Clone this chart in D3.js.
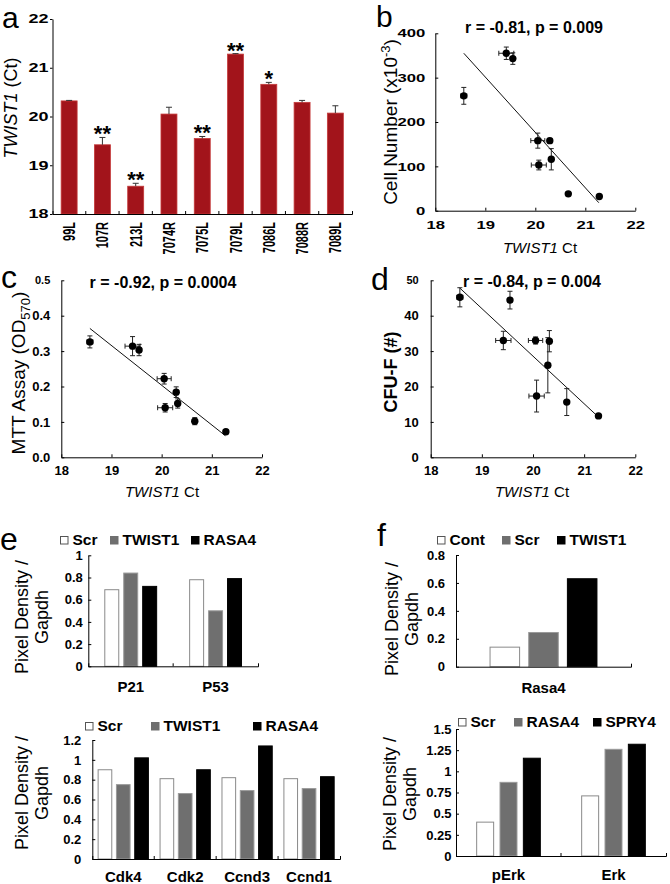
<!DOCTYPE html>
<html><head><meta charset="utf-8">
<script src="https://cdn.jsdelivr.net/npm/d3@7"></script>
<style>body{margin:0;background:#fff}svg{display:block}</style>
</head><body><svg id="c" width="670" height="884"></svg>
<script>
// ---------- DATA ----------
const samples   = ["99L","107R","213L","7074R","7075L","7079L","7086L","7088R","7089L"];
const ctMean    = [20.32,19.42,18.57,20.05,19.55,21.28,20.66,20.29,20.07];
const ctErr     = [0.01,0.15,0.06,0.14,0.04,0.01,0.04,0.04,0.15];
const ctStars   = ["","**","**","","**","**","*","",""];
const ctTicks   = [18,19,20,21,22];

const cellNumber    = [116,355,259,158,343,32,38,158,103];
const cellNumberErr = [24,14,19,17,13,3,3,5,11];
const mttOD         = [0.152,0.314,0.326,0.222,0.303,0.072,0.102,0.184,0.140];
const mttErr        = [0.013,0.027,0.017,0.015,0.016,0.006,0.010,0.015,0.012];
const cfuF          = [32.8,33.0,45.2,33.0,44.4,11.7,15.6,26.0,17.3];
const cfuErr        = [3.0,2.6,2.7,1.0,2.5,0.5,3.8,7.8,4.5];
const fitCell = [[18.57,355],[21.27,18]];
const fitMTT  = [[18.57,0.364],[21.27,0.061]];
const fitCFU  = [[18.57,47.8],[21.27,11.5]];
const statCell = "r = -0.81, p = 0.009";
const statMTT  = "r = -0.92, p = 0.0004";
const statCFU  = "r = -0.84, p = 0.004";
const scatterXTicks = [18,19,20,21,22];
const cellTicks = [0,100,200,300,400];
const mttTicks  = [0,0.1,0.2,0.3,0.4,0.5];
const cfuTicks  = [0,10,20,30,40,50];

const eTopGenes  = ["P21","P53"];
const eTopSeries = ["Scr","TWIST1","RASA4"];
const eTopScr    = [0.69,0.78];
const eTopTwist  = [0.84,0.50];
const eTopRasa   = [0.72,0.79];
const eTopTicks  = [0,0.2,0.4,0.6,0.8,1];

const eBotGenes  = ["Cdk4","Cdk2","Ccnd3","Ccnd1"];
const eBotSeries = ["Scr","TWIST1","RASA4"];
const eBotScr    = [0.90,0.81,0.82,0.81];
const eBotTwist  = [0.75,0.66,0.69,0.71];
const eBotRasa   = [1.02,0.90,1.14,0.83];
const eBotTicks  = [0,0.2,0.4,0.6,0.8,1,1.2];

const fTopGenes  = ["Rasa4"];
const fTopSeries = ["Cont","Scr","TWIST1"];
const fTopCont   = [0.14];
const fTopScr    = [0.245];
const fTopTwist  = [0.63];
const fTopTicks  = [0,0.2,0.4,0.6,0.8];

const fBotGenes  = ["pErk","Erk"];
const fBotSeries = ["Scr","RASA4","SPRY4"];
const fBotScr    = [0.40,0.71];
const fBotRasa   = [0.87,1.26];
const fBotSpry   = [1.155,1.32];
const fBotTicks  = [0,0.25,0.5,0.75,1,1.25,1.5];

// ---------- DRAW ----------
const FONT = "Arial, 'Liberation Sans', sans-serif";
const svg = d3.select("#c").attr("font-family", FONT);
svg.append("rect").attr("width",670).attr("height",884).attr("fill","#fff");

function txt(g, x, y, s, o = {}) {
  const t = g.append("text").attr("x", x).attr("y", y).text(s)
    .attr("font-size", o.size || 13).attr("font-weight", o.weight || "normal")
    .attr("text-anchor", o.anchor || "start").attr("fill", "#000");
  if (o.dy) t.attr("dy", o.dy);
  if (o.transform) t.attr("transform", o.transform);
  if (o.italic) t.attr("font-style", "italic");
  return t;
}
function styleAxis(a, size) {
  a.attr("font-family", FONT).attr("font-size", size).attr("font-weight", "bold");
  a.select(".domain").attr("stroke", "#000").attr("stroke-width", 1);
  a.selectAll(".tick line").attr("stroke", "#000");
  a.selectAll(".tick text").attr("fill", "#000");
}
function letter(x, y, s, size) { if (s) txt(svg, x, y, s, {size: size || 32}); }

// ----- Panel a -----
(function () {
  const g = svg.append("g");
  const x = d3.scaleBand().domain(samples).range([52.5, 352]);
  const y = d3.scaleLinear().domain([18, 22]).range([214, 19]);
  const bw = x.bandwidth() * 0.48;
  g.selectAll("rect.bar").data(samples).join("rect")
    .attr("x", d => x(d) + x.bandwidth() / 2 - bw / 2).attr("width", bw)
    .attr("y", (d, i) => y(ctMean[i])).attr("height", (d, i) => y(18) - y(ctMean[i]))
    .attr("fill", "#A2141B").attr("stroke", "#C53A3A").attr("stroke-width", 0.8);
  samples.forEach((d, i) => {
    const cx = x(d) + x.bandwidth() / 2;
    const yt = y(ctMean[i] + ctErr[i]);
    g.append("line").attr("x1", cx).attr("x2", cx).attr("y1", y(ctMean[i])).attr("y2", yt).attr("stroke", "#333");
    g.append("line").attr("x1", cx - 3).attr("x2", cx + 3).attr("y1", yt).attr("y2", yt).attr("stroke", "#333");
    if (ctStars[i]) txt(g, cx, yt + 4, ctStars[i], {size: 22, weight: "bold", anchor: "middle"});
  });
  const ay = g.append("g").attr("transform", "translate(52.5,0)")
    .call(d3.axisLeft(y).tickValues(ctTicks).tickSizeInner(2.5).tickSizeOuter(0).tickPadding(1.5).tickFormat(d3.format("d")));
  styleAxis(ay, 12);
  ay.selectAll(".tick text").attr("x", -4 / 1.5).attr("transform", "scale(1.5,1)");
  const ax = g.append("g").attr("transform", "translate(0,214)")
    .call(d3.axisBottom(x).tickSize(0).tickSizeOuter(-3).tickFormat(""));
  styleAxis(ax, 11);
  samples.slice(1).forEach(d => {
    g.append("line").attr("x1", x(d)).attr("x2", x(d)).attr("y1", 214).attr("y2", 211).attr("stroke", "#000");
  });
  samples.forEach(d => {
    const cx = x(d) + x.bandwidth() / 2;
    txt(g, 0, 0, d, {size: 11, weight: "bold", anchor: "end", dy: "0.35em",
      transform: `translate(${cx},222) scale(1.55,1) rotate(-90)`});
  });
  const yl = g.append("text").attr("transform", "translate(17,108) rotate(-90)")
    .attr("text-anchor", "middle").attr("font-size", 18).attr("fill", "#000");
  yl.append("tspan").attr("font-style", "italic").text("TWIST1");
  yl.append("tspan").text(" (Ct)");
  letter(2, 28, "a", 30);
})();

// ----- Scatter panels -----
function scatterPanel(o) {
  const g = svg.append("g");
  const x = d3.scaleLinear().domain([18, 22]).range(o.xr);
  const y = d3.scaleLinear().domain([0, o.ymax]).range(o.yr);
  const ax = g.append("g").attr("transform", `translate(0,${o.yr[0]})`)
    .call(d3.axisBottom(x).tickValues(scatterXTicks).tickSizeInner(-3).tickSizeOuter(0)
      .tickPadding(o.xpad).tickFormat(d3.format("d")));
  styleAxis(ax, o.tsize);
  const ay = g.append("g").attr("transform", `translate(${o.xr[0]},0)`)
    .call(d3.axisLeft(y).tickValues(o.yticks).tickSizeInner(-3).tickSizeOuter(0)
      .tickPadding(o.ypad).tickFormat(o.yfmt));
  styleAxis(ay, o.tsize);
  if (o.sx) {
    ax.selectAll(".tick text").attr("transform", `scale(${o.sx},1)`);
    ay.selectAll(".tick text").attr("x", -o.ypad / o.sx).attr("transform", `scale(${o.sx},1)`);
  }
  if (o.topSmall) ay.selectAll(".tick text").filter(d => d === o.ymax).attr("font-size", 11);
  g.append("line").attr("x1", x(o.fit[0][0])).attr("y1", y(o.fit[0][1]))
    .attr("x2", x(o.fit[1][0])).attr("y2", y(o.fit[1][1])).attr("stroke", "#111").attr("stroke-width", 1);
  ctMean.forEach((cv, i) => {
    const px = x(cv), py = y(o.vals[i]);
    const y1 = y(o.vals[i] + o.errs[i]), y2 = y(o.vals[i] - o.errs[i]);
    const x1 = x(cv - ctErr[i]), x2 = x(cv + ctErr[i]);
    const s = "#222";
    g.append("line").attr("x1", px).attr("x2", px).attr("y1", y1).attr("y2", y2).attr("stroke", s);
    g.append("line").attr("x1", px - 2.5).attr("x2", px + 2.5).attr("y1", y1).attr("y2", y1).attr("stroke", s);
    g.append("line").attr("x1", px - 2.5).attr("x2", px + 2.5).attr("y1", y2).attr("y2", y2).attr("stroke", s);
    g.append("line").attr("x1", x1).attr("x2", x2).attr("y1", py).attr("y2", py).attr("stroke", s);
    g.append("line").attr("x1", x1).attr("x2", x1).attr("y1", py - 2.5).attr("y2", py + 2.5).attr("stroke", s);
    g.append("line").attr("x1", x2).attr("x2", x2).attr("y1", py - 2.5).attr("y2", py + 2.5).attr("stroke", s);
  });
  g.selectAll("circle").data(ctMean).join("circle")
    .attr("cx", d => x(d)).attr("cy", (d, i) => y(o.vals[i])).attr("r", 3.7).attr("fill", "#000");
  txt(g, o.title[1], o.title[2], o.title[0], {size: 16, weight: "bold", anchor: "middle"});
  const xl = g.append("text").attr("x", o.xl[0]).attr("y", o.xl[1]).attr("text-anchor", "middle")
    .attr("font-size", 15).attr("fill", "#000");
  xl.append("tspan").attr("font-style", "italic").text("TWIST1");
  xl.append("tspan").text(" Ct");
  const yl = g.append("text").attr("transform", `translate(${o.yl[0]},${o.yl[1]}) rotate(-90)`)
    .attr("text-anchor", "middle").attr("font-size", o.ylSize).attr("font-weight", o.ylWeight || "normal")
    .attr("fill", "#000");
  o.ylParts.forEach(p => {
    const t = yl.append("tspan").text(p.t);
    if (p.dy) t.attr("dy", p.dy);
    if (p.size) t.attr("font-size", p.size);
  });
  letter(o.letter[1], o.letter[2], o.letter[0], o.letter[3]);
}

scatterPanel({
  xr: [435.3, 635.3], yr: [210.7, 33.3], ymax: 400, yticks: cellTicks, yfmt: d3.format("d"),
  vals: cellNumber, errs: cellNumberErr, fit: fitCell, xpad: 10, ypad: 10, tsize: 11.5, sx: 1.45,
  title: [statCell, 534, 33], xl: [540, 253], yl: [397, 122], ylSize: 19,
  ylParts: [{t: "Cell Number (x10"}, {t: "-3", dy: -7, size: 13}, {t: ")", dy: 7}],
  letter: ["b", 376, 27, 30]
});
scatterPanel({
  xr: [61.3, 262], yr: [457.3, 280.3], ymax: 0.5, yticks: mttTicks, yfmt: d3.format(".1f"),
  vals: mttOD, errs: mttErr, fit: fitMTT, xpad: 8, ypad: 11, tsize: 13, topSmall: true,
  title: [statMTT, 163, 288], xl: [162, 497], yl: [25, 373], ylSize: 19,
  ylParts: [{t: "MTT Assay (OD"}, {t: "570", dy: 5, size: 13}, {t: ")", dy: -5}],
  letter: ["c", 1, 288, 32]
});
scatterPanel({
  xr: [430.7, 635.3], yr: [457.3, 280.3], ymax: 50, yticks: cfuTicks, yfmt: d3.format("d"),
  vals: cfuF, errs: cfuErr, fit: fitCFU, xpad: 8, ypad: 12, tsize: 13, topSmall: true,
  title: [statCFU, 532, 287], xl: [532, 497], yl: [397, 372], ylSize: 18, ylWeight: "bold",
  ylParts: [{t: "CFU-F (#)"}],
  letter: ["d", 371, 290, 32]
});

// ----- Bar panels -----
const barFill   = ["#ffffff", "#6f6f6f", "#000000"];
const barStroke = ["#8a8a8a", "#9a9a9a", "#000000"];
function barPanel(o) {
  const g = svg.append("g");
  const x0 = d3.scaleBand().domain(o.genes).range(o.xr);
  const bwid = x0.bandwidth();
  const x1 = d3.scaleBand().domain(o.series)
    .range([bwid * (1 - o.frac) / 2, bwid * (1 + o.frac) / 2])
    .paddingInner(o.pad).paddingOuter(o.pad / 2);
  const y = d3.scaleLinear().domain([0, o.ticks[o.ticks.length - 1]]).range(o.yr);
  o.series.forEach((s, si) => {
    g.selectAll(null).data(o.genes).join("rect")
      .attr("x", d => x0(d) + x1(s) + 0.5).attr("width", x1.bandwidth() - 1)
      .attr("y", (d, gi) => y(o.values[si][gi])).attr("height", (d, gi) => y(0) - y(o.values[si][gi]))
      .attr("fill", barFill[si]).attr("stroke", barStroke[si]).attr("stroke-width", 1);
  });
  const ay = g.append("g").attr("transform", `translate(${o.xr[0]},0)`)
    .call(d3.axisLeft(y).tickValues(o.ticks).tickSizeInner(-3).tickSizeOuter(0)
      .tickPadding(o.ypad).tickFormat(d => String(d)));
  styleAxis(ay, 13);
  const ax = g.append("g").attr("transform", `translate(0,${o.yr[0]})`)
    .call(d3.axisBottom(x0).tickSize(0).tickSizeOuter(-3).tickPadding(o.xpad));
  styleAxis(ax, 15);
  ax.selectAll(".tick text").attr("dy", "0em");
  o.genes.slice(1).forEach(d => {
    g.append("line").attr("x1", x0(d)).attr("x2", x0(d)).attr("y1", o.yr[0]).attr("y2", o.yr[0] - 3).attr("stroke", "#000");
  });
  o.series.forEach((s, si) => {
    const lx = o.legendX[si];
    g.append("rect").attr("x", lx + 0.5).attr("y", o.legendY - 8.5).attr("width", 7.5).attr("height", 7.5)
      .attr("fill", barFill[si]).attr("stroke", si === 0 ? "#555" : barFill[si]).attr("stroke-width", 1);
    txt(g, lx + 12.5, o.legendY, s, {size: 15.5, weight: "bold"});
  });
  [["Pixel Density /", o.yl[0]], ["Gapdh", o.yl[1]]].forEach(([s, bx]) => {
    txt(g, 0, 0, s, {size: 18, anchor: "middle", transform: `translate(${bx},${o.yl[2]}) rotate(-90)`});
  });
  letter(o.letter[1], o.letter[2], o.letter[0], 32);
}

barPanel({
  genes: eTopGenes, series: eTopSeries, values: [eTopScr, eTopTwist, eTopRasa], ticks: eTopTicks,
  xr: [88.3, 258], yr: [666.3, 555.3], frac: 0.67, pad: 0.21, ypad: 5.5, xpad: 26,
  legendX: [60, 110, 191], legendY: 545, yl: [28, 48, 617], letter: ["e", 0, 550]
});
barPanel({
  genes: eBotGenes, series: eBotSeries, values: [eBotScr, eBotTwist, eBotRasa], ticks: eBotTicks,
  xr: [92.3, 340], yr: [859, 740], frac: 0.887, pad: 0.2, ypad: 11, xpad: 23,
  legendX: [85, 151, 253], legendY: 731, yl: [28, 48, 793], letter: ["", 0, 0]
});
barPanel({
  genes: fTopGenes, series: fTopSeries, values: [fTopCont, fTopScr, fTopTwist], ticks: fTopTicks,
  xr: [456, 631], yr: [666.7, 555], frac: 0.663, pad: 0.21, ypad: 11, xpad: 26,
  legendX: [437, 502, 557], legendY: 545, yl: [398, 418, 619], letter: ["f", 377, 546]
});
barPanel({
  genes: fBotGenes, series: fBotSeries, values: [fBotScr, fBotRasa, fBotSpry], ticks: fBotTicks,
  xr: [456, 666], yr: [856, 729], frac: 0.667, pad: 0.23, ypad: 4.5, xpad: 24,
  legendX: [458, 514, 593], legendY: 727, yl: [396, 416, 794], letter: ["", 0, 0]
});
</script></body></html>
